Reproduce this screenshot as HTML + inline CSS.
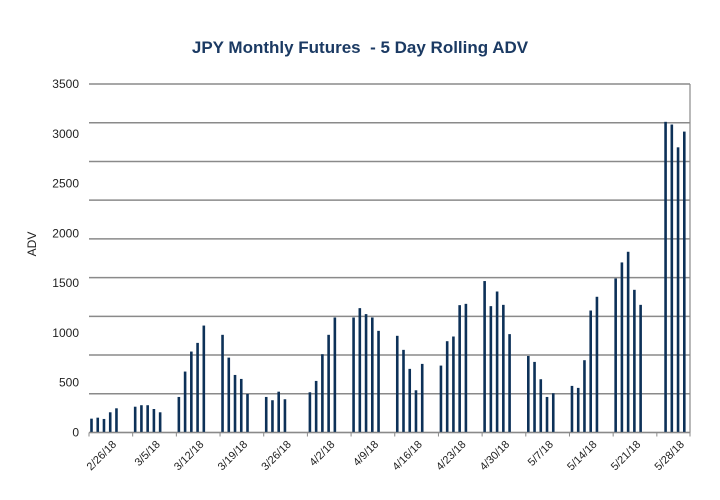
<!DOCTYPE html>
<html><head><meta charset="utf-8"><style>
html,body{margin:0;padding:0;background:#fff;width:720px;height:500px;overflow:hidden}
svg{display:block;font-family:"Liberation Sans",sans-serif}
</style></head><body>
<svg id="chart" width="720" height="500">
<text x="360" y="53" text-anchor="middle" font-size="17" font-weight="bold" fill="#1b3a63" style="white-space:pre" xml:space="preserve">JPY Monthly Futures  - 5 Day Rolling ADV</text>
<text transform="translate(36,244) rotate(-90)" text-anchor="middle" font-size="12" fill="#222">ADV</text>
<g id="grid"></g><g id="bars"></g><g id="axes"></g>
</svg>
<script>
const weekLabels = ["2/26/18","3/5/18","3/12/18","3/19/18","3/26/18","4/2/18","4/9/18","4/16/18","4/23/18","4/30/18","5/7/18","5/14/18","5/21/18","5/28/18"];
const dayIndex = [0,1,2,3,4, 7,8,9,10,11, 14,15,16,17,18, 21,22,23,24,25, 28,29,30,31,
  35,36,37,38,39, 42,43,44,45,46, 49,50,51,52,53, 56,57,58,59,60, 63,64,65,66,67,
  70,71,72,73,74, 77,78,79,80,81, 84,85,86,87,88, 92,93,94,95];
const advValues = [139,149,136,203,243, 259,274,274,236,203, 357,612,813,900,1074, 981,752,578,538,387, 357,324,410,334,
  404,518,786,981,1155, 1155,1249,1189,1155,1021, 971,830,639,424,689, 672,917,964,1279,1292,
  1521,1269,1416,1282,988, 769,709,535,357,394, 468,448,726,1225,1363, 1547,1708,1815,1433,1282, 3120,3093,2864,3022];
const yTicks = [0,500,1000,1500,2000,2500,3000,3500];

const NS="http://www.w3.org/2000/svg";
const X0=89, X1=690, Y0=432.5, Y1=84, DAYW=6.24, VMAX=3500;
const xDay=d=>X0+d*DAYW;
const yVal=v=>Y0-(v/VMAX)*(Y0-Y1);
function mk(tag,attrs,parent){const e=document.createElementNS(NS,tag);for(const k in attrs)e.setAttribute(k,attrs[k]);parent.appendChild(e);return e;}
const grid=document.getElementById('grid'), bars=document.getElementById('bars'), axes=document.getElementById('axes');
for(let i=0;i<=9;i++){
  const y=Y0-i*(Y0-Y1)/9;
  const g=mk('line',{x1:X0,x2:X1,y1:y,y2:y,stroke:'#8a8a8a','stroke-width':1.5},grid);
  
  
}
const bd=mk('line',{x1:X1,x2:X1,y1:Y1,y2:Y0,stroke:'#8a8a8a','stroke-width':1.2},grid);


yTicks.forEach(v=>{
  const t=mk('text',{x:79,y:yVal(v)+4,'text-anchor':'end','font-size':12,fill:'#222'},axes);
  t.textContent=v;
  
  
});
dayIndex.forEach((d,i)=>{
  const x=xDay(d)+1.2, y=yVal(advValues[i]);
  const r=mk('rect',{x:x,y:y,width:2.6,height:Y0-y,fill:'#0d3158'},bars);
  
  
});
const xa=mk('line',{x1:X0,x2:X1,y1:Y0,y2:Y0,stroke:'#8a8a8a','stroke-width':1.2},axes);


for(let i=0;i<=weekLabels.length;i++){
  const x=Math.min(xDay(i*7),X1);
  const tk=mk('line',{x1:x,x2:x,y1:Y0,y2:Y0+4,stroke:'#8a8a8a','stroke-width':1},axes);
  
  
}
weekLabels.forEach((lab,i)=>{
  const x=xDay(i*7)+28, y=445;
  const t=mk('text',{x:x,y:y,'text-anchor':'end','font-size':11,fill:'#222',transform:`rotate(-45 ${x} ${y})`},axes);
  t.textContent=lab;
  
  
});
</script>
</body></html>
